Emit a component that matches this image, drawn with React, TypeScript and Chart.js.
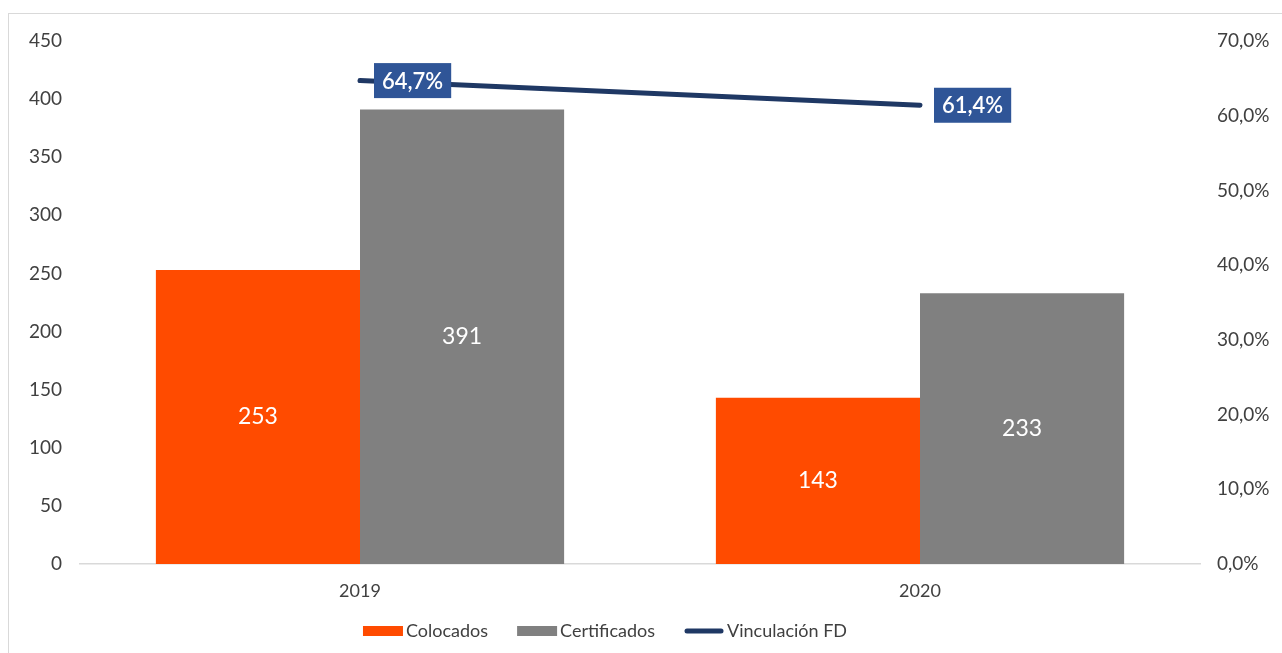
import React, { useEffect, useRef } from "react";
import { Chart, registerables } from "chart.js";

Chart.register(...registerables);

const categories = ["2019", "2020"];
const colocados = [253, 143];
const certificados = [391, 233];
const vinculacion = [0.647, 0.614];
const leftTicks = { min: 0, max: 450, step: 50 };
const rightTicks = { min: 0, max: 0.7, step: 0.1 };

const FONT = "Lato, 'DejaVu Sans', sans-serif";
const TEXT = "#404040";
const ORANGE = "#FF4B00";
const GRAY = "#808080";
const NAVY = "#1F3864";
const LABEL_BOX = "#2F5597";

const fmtPct = (v: number) => (v * 100).toFixed(1).replace(".", ",") + "%";

const labelsPlugin = {
  id: "valueLabels",
  afterDatasetsDraw(chart: any) {
    const ctx = chart.ctx;
    ctx.save();
    chart.data.datasets.forEach((ds: any, i: number) => {
      const meta = chart.getDatasetMeta(i);
      if (ds.type === "line") {
        meta.data.forEach((pt: any, j: number) => {
          const txt = fmtPct(ds.data[j]);
          ctx.font = `600 22px ${FONT}`;
          const w = ctx.measureText(txt).width + 16;
          const h = 35;
          const x = pt.x + 14;
          const y = pt.y - h / 2;
          ctx.fillStyle = LABEL_BOX;
          ctx.fillRect(x, y, w, h);
          ctx.fillStyle = "#ffffff";
          ctx.textAlign = "left";
          ctx.textBaseline = "middle";
          ctx.fillText(txt, x + 8, pt.y + 1);
        });
      } else {
        meta.data.forEach((bar: any, j: number) => {
          ctx.font = `23px ${FONT}`;
          ctx.fillStyle = "#ffffff";
          ctx.textAlign = "center";
          ctx.textBaseline = "middle";
          ctx.fillText(String(ds.data[j]), bar.x, (bar.y + bar.base) / 2);
        });
      }
    });
    ctx.restore();
  },
};

const legendPlugin = {
  id: "customLegend",
  afterDraw(chart: any) {
    const ctx = chart.ctx;
    ctx.save();
    ctx.font = `18px ${FONT}`;
    const items = chart.data.datasets.map((ds: any) => ({
      label: ds.label,
      color: ds.type === "line" ? ds.borderColor : ds.backgroundColor,
      line: ds.type === "line",
    }));
    const boxW = 40;
    const gap = 3;
    const itemGap = 29;
    let total = 0;
    items.forEach((it: any, k: number) => {
      total += boxW + gap + ctx.measureText(it.label).width + (k < items.length - 1 ? itemGap : 0);
    });
    let x = 596 - total / 2;
    const y = 617;
    items.forEach((it: any) => {
      if (it.line) {
        ctx.strokeStyle = it.color;
        ctx.lineWidth = 5;
        ctx.lineCap = "round";
        ctx.beginPath();
        ctx.moveTo(x + 3, y);
        ctx.lineTo(x + boxW - 3, y);
        ctx.stroke();
      } else {
        ctx.fillStyle = it.color;
        ctx.fillRect(x, y - 5, boxW, 10);
      }
      x += boxW + gap;
      ctx.fillStyle = TEXT;
      ctx.textAlign = "left";
      ctx.textBaseline = "middle";
      ctx.fillText(it.label, x, y);
      x += ctx.measureText(it.label).width + itemGap;
    });
    ctx.restore();
  },
};

export default function App() {
  const ref = useRef<HTMLCanvasElement | null>(null);
  useEffect(() => {
    document.documentElement.style.overflow = "hidden";
    const canvas = ref.current;
    if (!canvas) return;
    const chart = new Chart(canvas, {
      type: "bar",
      data: {
        labels: categories,
        datasets: [
          {
            type: "bar",
            label: "Colocados",
            data: colocados,
            yAxisID: "y",
            backgroundColor: ORANGE,
            categoryPercentage: 0.729,
            barPercentage: 1,
            order: 1,
          },
          {
            type: "bar",
            label: "Certificados",
            data: certificados,
            yAxisID: "y",
            backgroundColor: GRAY,
            categoryPercentage: 0.729,
            barPercentage: 1,
            order: 1,
          },
          {
            type: "line",
            label: "Vinculación FD",
            data: vinculacion,
            yAxisID: "y1",
            borderColor: NAVY,
            backgroundColor: NAVY,
            borderWidth: 5,
            borderCapStyle: "round",
            pointRadius: 0,
            order: 0,
          } as any,
        ],
      },
      options: {
        responsive: false,
        animation: false,
        layout: { padding: { top: 27, bottom: 49, left: 0, right: 0 } },
        plugins: {
          legend: { display: false },
          tooltip: { enabled: false },
        },
        scales: {
          x: {
            grid: { display: false },
            border: { color: "#d9d9d9", width: 1.5 },
            ticks: { font: { family: FONT, size: 18 }, color: TEXT, padding: 8 },
            afterFit: (s: any) => {
              s.height = 40;
            },
          },
          y: {
            position: "left",
            min: leftTicks.min,
            max: leftTicks.max,
            grid: { display: false },
            border: { display: false },
            ticks: {
              stepSize: leftTicks.step,
              font: { family: FONT, size: 19 },
              color: TEXT,
              padding: 10,
            },
            afterFit: (s: any) => {
              s.width = 71;
            },
          },
          y1: {
            position: "right",
            min: rightTicks.min,
            max: rightTicks.max,
            grid: { display: false },
            border: { display: false },
            ticks: {
              stepSize: rightTicks.step,
              font: { family: FONT, size: 19 },
              color: TEXT,
              padding: 9,
              callback: (v: any) => fmtPct(Number(v)),
            },
            afterFit: (s: any) => {
              s.width = 82;
            },
          },
        },
      } as any,
      plugins: [labelsPlugin, legendPlugin],
    });
    return () => chart.destroy();
  }, []);

  return (
    <div
      style={{
        position: "absolute",
        left: 8,
        top: 13,
        width: 1300,
        height: 700,
        border: "1px solid #d9d9d9",
        background: "#fff",
      }}
    >
      <canvas ref={ref} width={1273} height={639} style={{ display: "block" }} />
    </div>
  );
}
